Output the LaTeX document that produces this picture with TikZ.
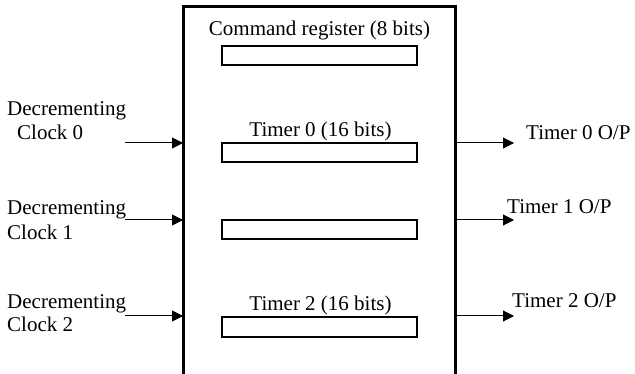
\documentclass[tikz,border=0pt]{standalone}
\usepackage{fontspec}
\setmainfont{Liberation Serif}
\usetikzlibrary{arrows.meta}
\begin{document}
\begin{tikzpicture}[x=1pt,y=-1pt,
  lbl/.style={inner sep=0pt, font=\fontsize{21}{24}\selectfont},
  reg/.style={draw, line width=2pt, minimum width=195pt, minimum height=19pt, inner sep=0pt, outer sep=0pt},
  sig/.style={line width=1pt, -{Triangle[length=11pt,width=11pt]}}]
\clip (0,0) rectangle (635,374);
\fill[white] (0,0) rectangle (635,374);
% chip outline (bottom edge lies outside the picture)
\node[draw, line width=3pt, minimum width=272pt, minimum height=383pt, inner sep=0pt, outer sep=0pt, anchor=north west] (chip) at (183,7) {};
% registers
\node[reg] (cmd) at (319.5,55.5) {};
\node[reg] (t0) at (319.5,152.5) {};
\node[reg] (t1) at (319.5,230) {};
\node[reg] (t2) at (319.5,327) {};
% register labels
\node[lbl, anchor=base] (cmdl) at (319.5,36) {Command register (8 bits)};
\node[lbl, anchor=base] (t0l) at (320.5,136.5) {Timer 0 (16 bits)};
\node[lbl, anchor=base] (t2l) at (320.5,310) {Timer 2 (16 bits)};
% inputs
\node[lbl, anchor=base west] (d0) at (7,115.5) {Decrementing};
\node[lbl, anchor=base west] (c0) at (17,140) {Clock 0};
\node[lbl, anchor=base west] (d1) at (7,214.5) {Decrementing};
\node[lbl, anchor=base west] (c1) at (7,240) {Clock 1};
\node[lbl, anchor=base west] (d2) at (7,308.5) {Decrementing};
\node[lbl, anchor=base west] (c2) at (7,331.5) {Clock 2};
\coordinate (in0) at (125,143);
\coordinate (in1) at (125,220);
\coordinate (in2) at (125,316);
\draw[sig] (in0) -- (in0 -| chip.west);
\draw[sig] (in1) -- (in1 -| chip.west);
\draw[sig] (in2) -- (in2 -| chip.west);
% outputs
\coordinate (out0) at (514,143);
\coordinate (out1) at (514,220);
\coordinate (out2) at (514,316);
\draw[sig] (out0 -| chip.east) -- (out0);
\draw[sig] (out1 -| chip.east) -- (out1);
\draw[sig] (out2 -| chip.east) -- (out2);
\node[lbl, anchor=base west] (o0) at (526,140) {Timer 0 O/P};
\node[lbl, anchor=base west] (o1) at (507,213.5) {Timer 1 O/P};
\node[lbl, anchor=base west] (o2) at (512,307.5) {Timer 2 O/P};
\end{tikzpicture}
\end{document}
